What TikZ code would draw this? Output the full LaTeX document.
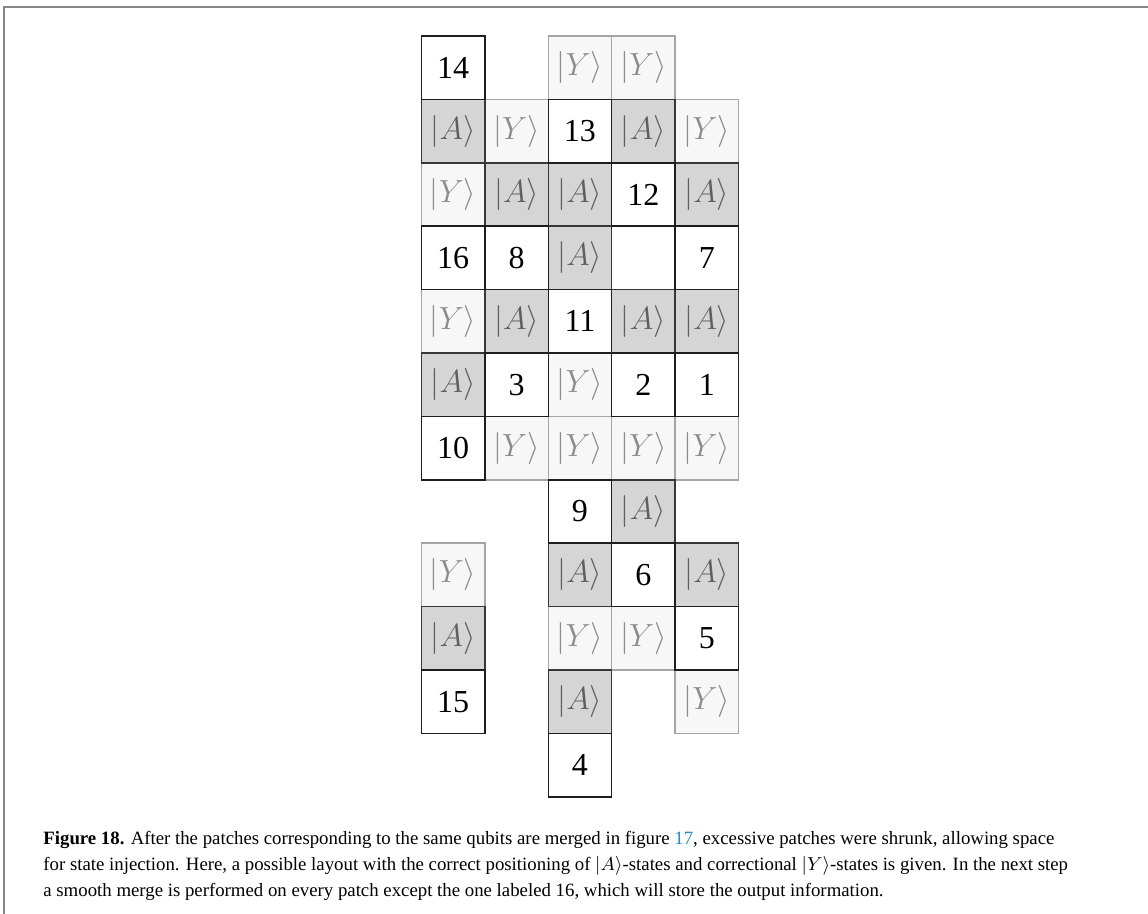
\RequirePackage{fix-cm}
\documentclass[tikz,border=0pt]{standalone}
\usepackage{fontspec}
\setmainfont{Liberation Serif}
\usetikzlibrary{positioning}
\definecolor{qbedge}{RGB}{30,30,30}
\definecolor{qbmagic}{RGB}{213,213,213}
\definecolor{qbmagicedge}{RGB}{55,55,55}
\definecolor{qbmagictext}{RGB}{95,95,95}
\definecolor{qbcorr}{RGB}{247,247,247}
\definecolor{qbcorredge}{RGB}{165,165,165}
\definecolor{qbcorrtext}{RGB}{140,140,140}
\definecolor{qbframe}{RGB}{135,135,135}
\definecolor{qblink}{RGB}{40,140,200}
\newcommand{\ketA}{$|A\rangle$}
\newcommand{\ketY}{$|Y\rangle$}
\tikzset{
  patch/.style={
    draw=qbedge, line width=0.75pt, fill=white,
    minimum size=31.7pt, inner sep=0pt, outer sep=0pt,
    font=\fontsize{16}{19}\selectfont
  },
  magic/.style={patch, fill=qbmagic, draw=qbmagicedge, text=qbmagictext},
  corr/.style={patch, fill=qbcorr, draw=qbcorredge, text=qbcorrtext},
  frameline/.style={draw=qbframe, line width=1pt},
  captext/.style={
    font=\fontsize{9.4}{13}\selectfont, align=left,
    inner sep=0pt, anchor=north west
  }
}

\begin{document}
\begin{tikzpicture}[x=31.7pt, y=-31.7pt]
  \useasboundingbox (0,0) rectangle (18.107,14.416);
  \coordinate (frTR) at (18.107,0.11);
  \coordinate (frBL) at (0.063,14.416);
  \draw[frameline] (frTR) -| (frBL);
  \begin{scope}[shift={(7.148,1.068)}]
    % correctional |Y> states
    \node[corr] (y02) at (2,0) {\ketY};
    \node[corr] (y03) at (3,0) {\ketY};
    \node[corr] (y11) at (1,1) {\ketY};
    \node[corr] (y14) at (4,1) {\ketY};
    \node[corr] (y20) at (0,2) {\ketY};
    \node[corr] (y40) at (0,4) {\ketY};
    \node[corr] (y52) at (2,5) {\ketY};
    \node[corr] (y61) at (1,6) {\ketY};
    \node[corr] (y62) at (2,6) {\ketY};
    \node[corr] (y63) at (3,6) {\ketY};
    \node[corr] (y64) at (4,6) {\ketY};
    \node[corr] (y80) at (0,8) {\ketY};
    \node[corr] (y92) at (2,9) {\ketY};
    \node[corr] (y93) at (3,9) {\ketY};
    \node[corr] (y104) at (4,10) {\ketY};
    % |A> states
    \node[magic] (a10) at (0,1) {\ketA};
    \node[magic] (a13) at (3,1) {\ketA};
    \node[magic] (a21) at (1,2) {\ketA};
    \node[magic] (a22) at (2,2) {\ketA};
    \node[magic] (a24) at (4,2) {\ketA};
    \node[magic] (a32) at (2,3) {\ketA};
    \node[magic] (a41) at (1,4) {\ketA};
    \node[magic] (a43) at (3,4) {\ketA};
    \node[magic] (a44) at (4,4) {\ketA};
    \node[magic] (a50) at (0,5) {\ketA};
    \node[magic] (a73) at (3,7) {\ketA};
    \node[magic] (a82) at (2,8) {\ketA};
    \node[magic] (a84) at (4,8) {\ketA};
    \node[magic] (a90) at (0,9) {\ketA};
    \node[magic] (a102) at (2,10) {\ketA};
    % numbered patches
    \node[patch] (p14) at (0,0) {14};
    \node[patch] (p13) at (2,1) {13};
    \node[patch] (p12) at (3,2) {12};
    \node[patch] (p16) at (0,3) {16};
    \node[patch] (p8) at (1,3) {8};
    \node[patch] (p7) at (4,3) {7};
    \node[patch] (p11) at (2,4) {11};
    \node[patch] (p3) at (1,5) {3};
    \node[patch] (p2) at (3,5) {2};
    \node[patch] (p1) at (4,5) {1};
    \node[patch] (p10) at (0,6) {10};
    \node[patch] (p9) at (2,7) {9};
    \node[patch] (p6) at (3,8) {6};
    \node[patch] (p5) at (4,9) {5};
    \node[patch] (p15) at (0,10) {15};
    \node[patch] (p4) at (2,11) {4};
  \end{scope}
  \node[captext] (caption) at (0.678,13.10)
    {\textbf{Figure 18.} After the patches corresponding to the same qubits are merged in figure \textcolor{qblink}{17}, excessive patches were shrunk, allowing space\\
     for state injection. Here, a possible layout with the correct positioning of $|A\rangle$-states and correctional $|Y\rangle$-states is given. In the next step\\
     a smooth merge is performed on every patch except the one labeled 16, which will store the output information.};
\end{tikzpicture}
\end{document}
